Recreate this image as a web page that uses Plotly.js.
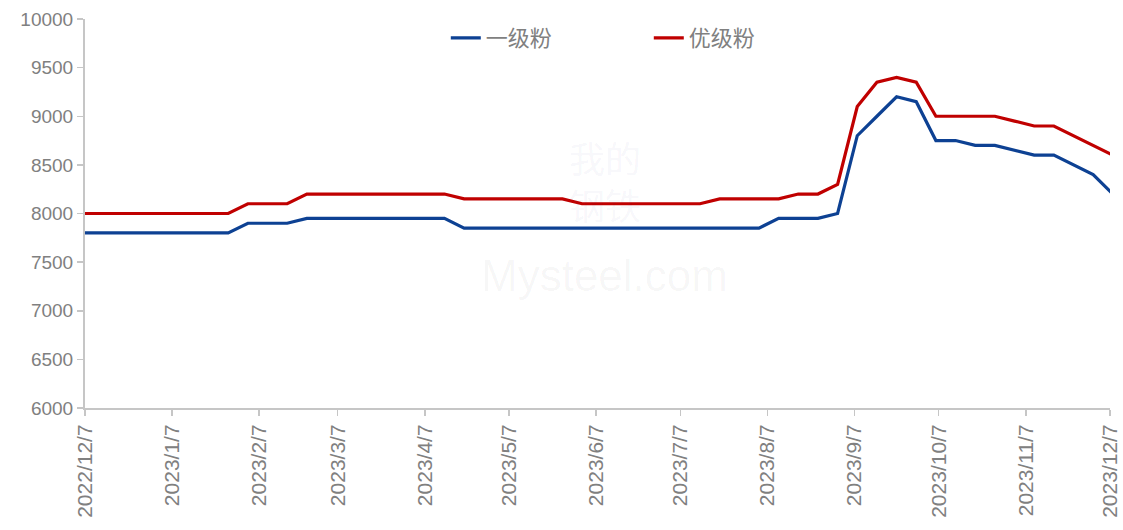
<!DOCTYPE html>
<html>
<head>
<meta charset="utf-8">
<script src="https://cdn.plot.ly/plotly-3.0.1.min.js"></script>
<style>html,body{margin:0;padding:0;background:#fff;}#chart{width:1123px;height:530px;}</style>
</head>
<body>
<div id="chart"></div>
<script>
const dates = [
  '2022-12-07','2022-12-16','2022-12-23','2022-12-30','2023-01-06','2023-01-13','2023-01-20','2023-01-27',
  '2023-02-03','2023-02-10','2023-02-17','2023-02-24','2023-03-03','2023-03-10','2023-03-17','2023-03-24',
  '2023-03-31','2023-04-07','2023-04-14','2023-04-21','2023-04-28','2023-05-05','2023-05-12','2023-05-19',
  '2023-05-26','2023-06-02','2023-06-09','2023-06-16','2023-06-23','2023-06-30','2023-07-07','2023-07-14',
  '2023-07-21','2023-07-28','2023-08-04','2023-08-11','2023-08-18','2023-08-25','2023-09-01','2023-09-08',
  '2023-09-15','2023-09-22','2023-09-29','2023-10-06','2023-10-13','2023-10-20','2023-10-27','2023-11-03',
  '2023-11-10','2023-11-17','2023-11-24','2023-12-01','2023-12-08'
];
const gradeOne = [
  7800,7800,7800,7800,7800,7800,7800,7800,
  7900,7900,7900,
  7950,7950,7950,7950,7950,7950,7950,7950,
  7850,7850,7850,7850,7850,7850,7850,7850,7850,7850,7850,7850,7850,7850,7850,7850,
  7950,7950,7950,
  8000,8800,9000,9200,9150,8750,8750,8700,8700,8650,8600,8600,8500,8400,8200
];
const premium = [
  8000,8000,8000,8000,8000,8000,8000,8000,
  8100,8100,8100,
  8200,8200,8200,8200,8200,8200,8200,8200,
  8150,8150,8150,8150,8150,8150,
  8100,8100,8100,8100,8100,8100,8100,
  8150,8150,8150,8150,
  8200,8200,
  8300,9100,9350,9400,9350,9000,9000,9000,9000,8950,8900,8900,8800,8700,8600
];
const seriesNames = ['一级粉','优级粉'];
const tickDates = ['2022-12-07','2023-01-07','2023-02-07','2023-03-07','2023-04-07','2023-05-07','2023-06-07',
  '2023-07-07','2023-08-07','2023-09-07','2023-10-07','2023-11-07','2023-12-07'];
const tickLabels = ['2022/12/7','2023/1/7','2023/2/7','2023/3/7','2023/4/7','2023/5/7','2023/6/7',
  '2023/7/7','2023/8/7','2023/9/7','2023/10/7','2023/11/7','2023/12/7'];

const traces = [
  {x: dates, y: gradeOne, name: seriesNames[0], type: 'scatter', mode: 'lines',
   line: {color: '#0d4193', width: 3.2}, cliponaxis: false},
  {x: dates, y: premium, name: seriesNames[1], type: 'scatter', mode: 'lines',
   line: {color: '#c00000', width: 3.2}, cliponaxis: false}
];

const axisGray = '#c6c6c6';
const labelGray = '#808080';
const layout = {
  width: 1123, height: 530,
  margin: {l: 85, r: 13, t: 19, b: 122, pad: 0},
  paper_bgcolor: '#ffffff', plot_bgcolor: '#ffffff',
  font: {family: 'Liberation Sans, Arial, sans-serif', color: labelGray},
  showlegend: true,
  legend: {
    orientation: 'h', x: 0.352, xanchor: 'left', y: 0.951, yanchor: 'middle',
    font: {family: 'Noto Sans CJK SC', size: 22, color: labelGray},
    entrywidth: 158, entrywidthmode: 'pixels', bgcolor: 'rgba(0,0,0,0)'
  },
  xaxis: {
    type: 'date', range: ['2022-12-07', '2023-12-07'],
    tickmode: 'array', tickvals: tickDates, ticktext: tickLabels,
    tickangle: -90, ticks: 'outside', ticklen: 6, tickcolor: axisGray, tickwidth: 1.5,
    showline: true, linecolor: axisGray, linewidth: 2,
    showgrid: false, zeroline: false,
    tickfont: {family: 'Liberation Sans, Arial, sans-serif', size: 21, color: labelGray}
  },
  yaxis: {
    range: [6000, 10000], dtick: 500, tick0: 6000, tickformat: 'd',
    ticks: 'outside', ticklen: 6, tickcolor: axisGray, tickwidth: 1.5,
    showline: true, linecolor: axisGray, linewidth: 2,
    showgrid: false, zeroline: false,
    tickfont: {family: 'Liberation Sans, Arial, sans-serif', size: 19, color: labelGray}
  },
  annotations: [
    {xref: 'paper', yref: 'paper', x: 0.507, y: 0.585, yanchor: 'middle', text: '我的<br>钢铁', showarrow: false,
     font: {family: 'Noto Sans CJK SC', size: 36, color: 'rgba(60,60,140,0.05)'}},
    {xref: 'paper', yref: 'paper', x: 0.507, y: 0.34, yanchor: 'middle', text: 'Mysteel.com', showarrow: false,
     font: {family: 'Liberation Sans, Arial, sans-serif', size: 44, color: 'rgba(0,0,0,0.04)'}}
  ]
};

Plotly.newPlot('chart', traces, layout, {displayModeBar: false, staticPlot: true});
</script>
</body>
</html>
